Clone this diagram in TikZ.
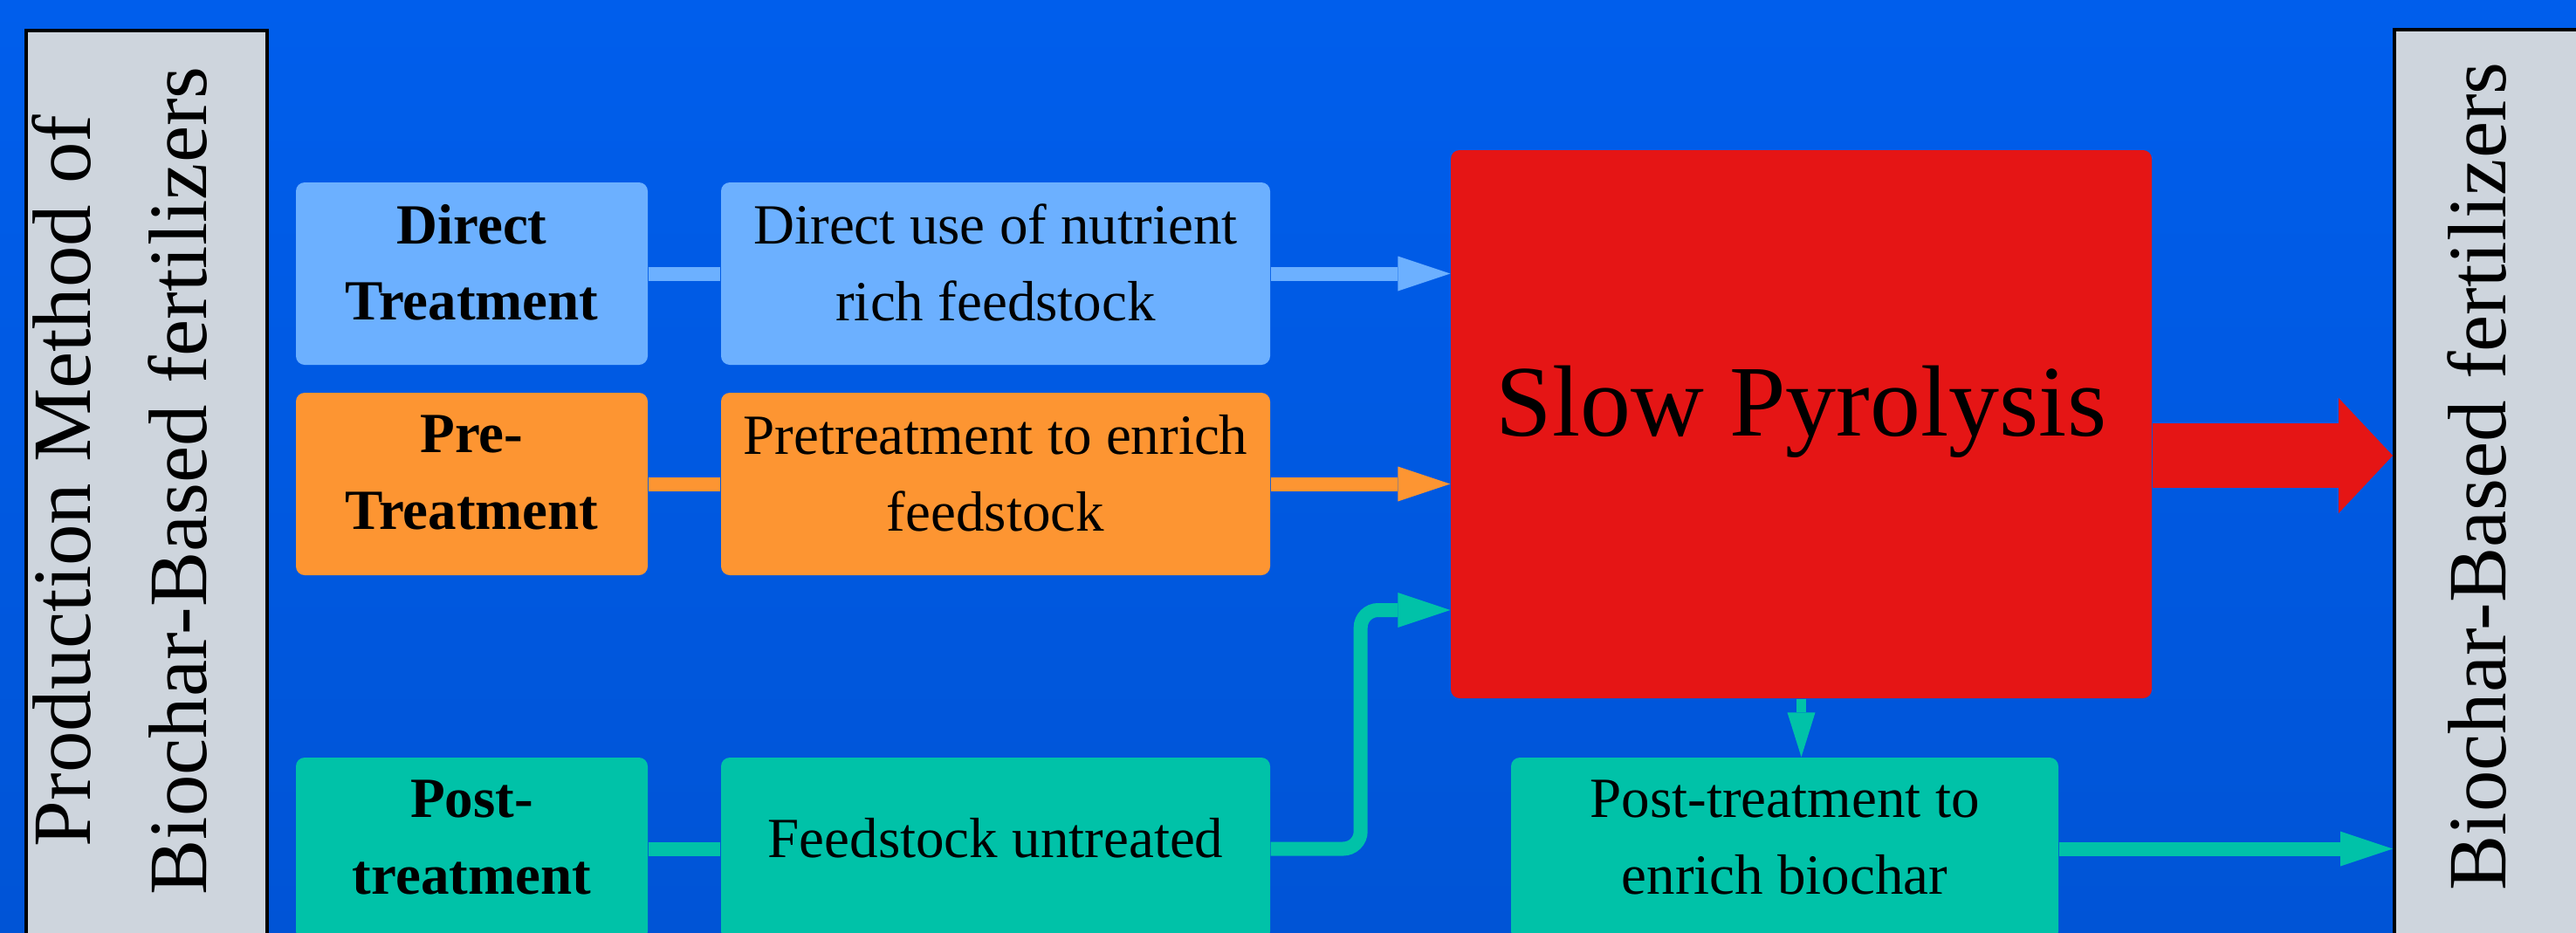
\documentclass[tikz,border=0pt]{standalone}
\usepackage{fontspec}
\setmainfont{Liberation Serif}
\usetikzlibrary{arrows.meta}
\definecolor{bgtop}{RGB}{0,94,236}
\definecolor{bgbot}{RGB}{0,84,214}
\definecolor{lanegrey}{RGB}{206,213,221}
\definecolor{skyblue}{RGB}{108,176,255}
\definecolor{pumpkin}{RGB}{253,149,50}
\definecolor{tealgreen}{RGB}{0,194,168}
\definecolor{kilnred}{RGB}{229,21,21}

\begin{document}
\begin{tikzpicture}[
    lane/.style={draw=black, line width=1pt, fill=lanegrey, inner sep=0pt},
    title/.style={rotate=90, align=center, font=\fontsize{27}{38}\selectfont},
    stepbox/.style={rounded corners=0.1cm, minimum height=2.09cm, inner sep=0pt, text depth=0.26cm, align=center, font=\fontsize{18.5}{25}\selectfont},
    kind/.style={stepbox, minimum width=4.03cm, font=\fontsize{18.5}{25}\selectfont\bfseries},
    route/.style={stepbox, minimum width=6.29cm},
    flow/.style={line width=0.16cm},
    feedarrow/.style={-{Triangle[length=0.6cm,width=0.4cm,line width=0pt]}}
]
    \shade[top color=bgtop, bottom color=bgbot] (0,0) rectangle (29.51,-10.68);
    \useasboundingbox (0,0) rectangle (29.51,-10.68);

    % side panels
    \node[lane, minimum width=2.76cm, minimum height=10.6cm, anchor=north west] at (0.28,-0.33) (inlane) {};
    \node[lane, minimum width=2.9cm, minimum height=10.6cm, anchor=north west] at (27.41,-0.32) (outlane) {};
    \node[title] at (1.37,-5.51) (inname) {Production Method of\\Biochar-Based fertilizers};
    \node[title] at (28.38,-5.46) (outname) {Biochar-Based fertilizers};

    % methods
    \node[kind, fill=skyblue] at (5.405,-3.135) (dirT) {Direct\\Treatment};
    \node[kind, fill=pumpkin] at (5.405,-5.545) (preT) {Pre-\\Treatment};
    \node[kind, fill=tealgreen] at (5.405,-9.725) (postT) {Post-\\treatment};
    \node[route, fill=skyblue] at (11.405,-3.135) (dirU) {Direct use of nutrient\\rich feedstock};
    \node[route, fill=pumpkin] at (11.405,-5.545) (preU) {Pretreatment to enrich\\feedstock};
    \node[route, fill=tealgreen] at (11.405,-9.725) (rawU) {Feedstock untreated};
    \node[stepbox, fill=kilnred, minimum width=8.03cm, minimum height=6.28cm, text depth=0.53cm, font=\fontsize{33}{40}\selectfont] at (20.635,-4.86) (pyro) {Slow Pyrolysis};
    \node[route, fill=tealgreen, minimum width=6.27cm] at (20.445,-9.725) (postU) {Post-treatment to\\enrich biochar};
    \coordinate (feedin) at ([yshift=-2.13cm]pyro.west);

    \path[flow, skyblue] (dirT) edge (dirU);
    \path[flow, pumpkin] (preT) edge (preU);
    \path[flow, tealgreen] (postT) edge (rawU);
    \path[flow, skyblue, feedarrow] (dirU) edge (dirU.east -| pyro.west);
    \path[flow, pumpkin, feedarrow] (preU) edge (preU.east -| pyro.west);
    \draw[flow, tealgreen, feedarrow, rounded corners=0.2cm] (rawU.east) -- ++(1.03,0) |- (feedin);
    \path[line width=0.11cm, tealgreen, -{Triangle[length=0.51cm,width=0.32cm,line width=0pt]}] (pyro.south) edge (pyro.south |- postU.north);
    \path[flow, tealgreen, feedarrow] (postU) edge (postU.east -| outlane.west);
    \path[line width=0.74cm, kilnred, -{Triangle[length=0.62cm,width=1.32cm,line width=0pt]}] ([yshift=-0.36cm]pyro.east) edge ([yshift=-0.36cm]pyro.east -| outlane.west);
\end{tikzpicture}
\end{document}
